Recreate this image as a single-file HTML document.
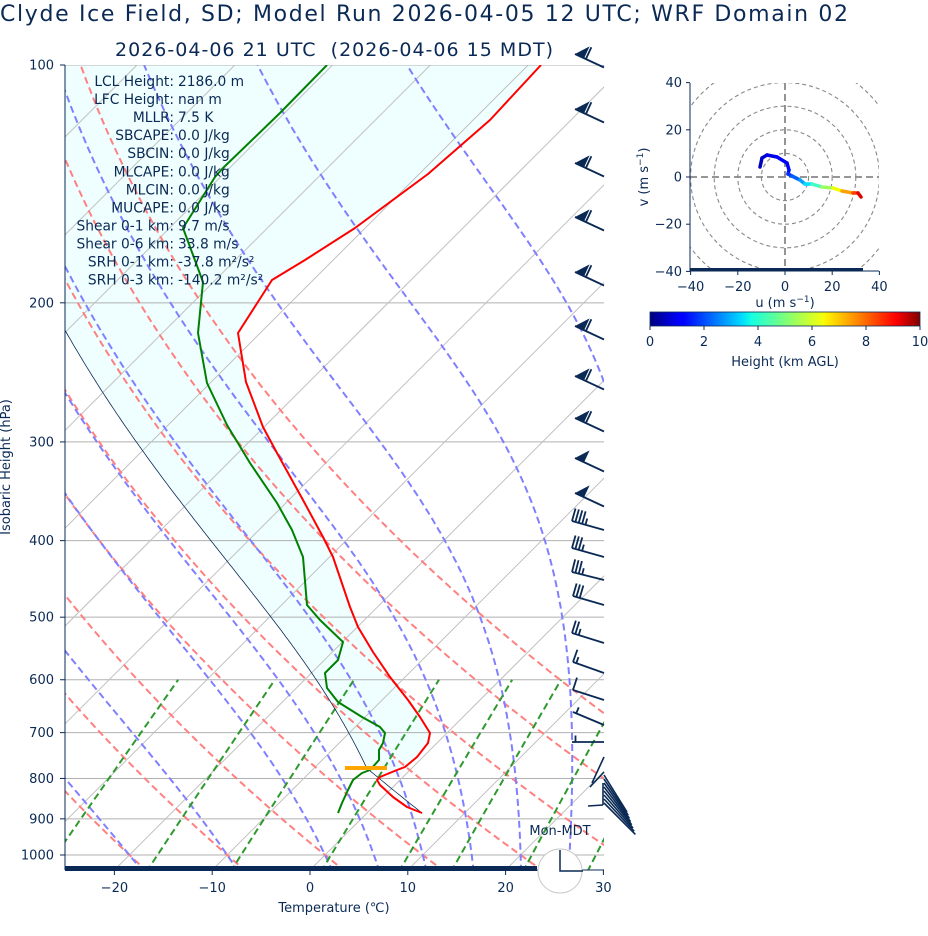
<!DOCTYPE html>
<html><head><meta charset="utf-8"><style>
html,body{margin:0;padding:0;background:#fff;}
svg{display:block;font-family:"DejaVu Sans","Liberation Sans",sans-serif;}
</style></head><body>
<svg id="s" width="928" height="936" viewBox="0 0 928 936" xmlns="http://www.w3.org/2000/svg">
<defs>
<clipPath id="pc"><rect x="65" y="65" width="539" height="805"/></clipPath>
<clipPath id="hc"><rect x="690" y="83" width="189" height="188"/></clipPath>
<linearGradient id="jet" x1="0" x2="1" y1="0" y2="0">
<stop offset="0" stop-color="#00007f"/><stop offset="0.11" stop-color="#0000ff"/><stop offset="0.125" stop-color="#0000ff"/>
<stop offset="0.34" stop-color="#00dbff"/><stop offset="0.375" stop-color="#14ffe3"/><stop offset="0.5" stop-color="#7dff7a"/>
<stop offset="0.64" stop-color="#f5ff0a"/><stop offset="0.66" stop-color="#ffed00"/><stop offset="0.91" stop-color="#ff0000"/><stop offset="1" stop-color="#800000"/>
</linearGradient>
</defs>
<g id="plot" clip-path="url(#pc)"></g>
<g id="over"></g>
<text x="0" y="21" font-size="22" fill="#0a2a55" textLength="848">Clyde Ice Field, SD; Model Run 2026-04-05 12 UTC; WRF Domain 02</text>
<text x="115" y="56" font-size="19" fill="#0a2a55" textLength="438" xml:space="preserve">2026-04-06 21 UTC  (2026-04-06 15 MDT)</text>
</svg>
<script>
(function(){
var NS="http://www.w3.org/2000/svg";
var plot=document.getElementById('plot'),over=document.getElementById('over');
function el(p,tag,a,txt){var e=document.createElementNS(NS,tag);for(var k in a)e.setAttribute(k,a[k]);if(txt!=null)e.textContent=txt;p.appendChild(e);return e;}
function Y(p){return 65+(Math.log10(p)-2)*790;}
function X(T,p){return 310+9.78*T+(870-Y(p));}
function pl(pts){return pts.map(function(q){return q[0].toFixed(1)+','+q[1].toFixed(1);}).join(' ');}
var C='#0a2a55';
var fillG=el(plot,'g',{});
[100,200,300,400,500,600,700,800,900,1000].forEach(function(p){el(plot,'line',{x1:65,x2:604,y1:Y(p),y2:Y(p),stroke:'#b0b0b0','stroke-width':1});});
for(var T=-120;T<=40;T+=10){var a=[X(T,1050),Y(1050)],b=[X(T,100),Y(100)];el(plot,'line',{x1:a[0],y1:a[1],x2:b[0],y2:b[1],stroke:'#c0c0c0','stroke-width':1});}
var ps=[];for(var p=1050;p>=99;p-=5)ps.push(p);
for(var t0=-30;t0<=50;t0+=10){var pts=ps.map(function(p){var T=(t0+273.15)*Math.pow(p/1000,0.2857)-273.15;return [X(T,p),Y(p)];});
el(plot,'polyline',{points:pl(pts),fill:'none',stroke:'#ff8080','stroke-width':2,'stroke-dasharray':'7,4'});}
var Rd=287.04,Cp=1005.7,Lv=2.501e6,eps=0.622;
function es(Tc){return 6.112*Math.exp(17.67*Tc/(Tc+243.5));}
function dTdp(T,p){var e=es(T-273.15);var rs=eps*e/(p-e);return (Rd*T+Lv*rs)/(Cp+Lv*Lv*rs*eps/(Rd*T*T))/p;}
function moist(Tc,p0,p1){var T=Tc+273.15,p=p0,out=[[Tc,p]];var n=Math.ceil(Math.abs(p1-p0)/2),h=(p1-p0)/n;
for(var i=0;i<n;i++){var k1=dTdp(T,p),k2=dTdp(T+h/2*k1,p+h/2),k3=dTdp(T+h/2*k2,p+h/2),k4=dTdp(T+h*k3,p+h);T+=h/6*(k1+2*k2+2*k3+k4);p+=h;out.push([T-273.15,p]);}return out;}
[-40,-30,-20,-10,0,5,10,15,20,25,30,35,40,45].forEach(function(t0){
var up=moist(t0,1000,100),dn=moist(t0,1000,1050).reverse();var all=dn.concat(up.slice(1));
el(plot,'polyline',{points:pl(all.map(function(q){return [X(q[0],q[1]),Y(q[1])];})),fill:'none',stroke:'#8080ff','stroke-width':2,'stroke-dasharray':'7,4'});});
[0.0004,0.001,0.002,0.004,0.007,0.01,0.016,0.024,0.032].forEach(function(w){var pts=[];for(var p=1050;p>=600;p-=10){var e=w*p/(eps+w);var l=Math.log(e/6.112);var Td=243.5*l/(17.67-l);pts.push([X(Td,p),Y(p)]);}
el(plot,'polyline',{points:pl(pts),fill:'none',stroke:'#2e9a2e','stroke-width':2,'stroke-dasharray':'7,4'});});
var pS=Math.pow(10,(813-65)/790+2),TS=(422-310-(870-813))/9.78;
var pL=Math.pow(10,(768-65)/790+2);var parcel=[];
for(var p=pS;p>pL;p-=5){parcel.push([(TS+273.15)*Math.pow(p/pS,0.2857)-273.15,p]);}
var TL=(TS+273.15)*Math.pow(pL/pS,0.2857)-273.15;
parcel=parcel.concat(moist(TL,pL,100));
var parPx=parcel.map(function(q){return [X(q[0],q[1]),Y(q[1])];});
var red=[[541,65],[490,120],[428,174],[355,228],[305,260],[272,280],[238,333],[246,382],[263,427],[277,453],[303,500],[323,537],[333,557],[350,607],[358,627],[373,652],[390,677],[408,700],[420,717],[430,733],[428,743],[417,757],[405,767],[397,770],[380,777],[377,780],[380,785],[393,797],[407,807],[422,813]];
var grn=[[327,65],[280,113],[223,168],[215,177],[183,228],[203,282],[198,333],[207,383],[227,425],[250,463],[277,503],[292,530],[303,557],[307,605],[320,620],[343,642],[338,660],[325,673],[327,688],[338,702],[362,717],[380,727],[385,733],[383,743],[379,750],[379,760],[370,770],[362,773],[353,780],[348,790],[342,803],[338,813]];
var tpart=red.filter(function(q){return q[1]<=772;});
var ppart=parPx.filter(function(q){return q[1]<=772;});
el(fillG,'polygon',{points:pl([[541,65]].concat(tpart.slice(1)).concat(ppart).concat([[-400,60],[0,60]])),fill:'#effefe',stroke:'none'});
el(plot,'polyline',{points:pl(parPx),fill:'none',stroke:C,'stroke-width':0.8});
el(plot,'polyline',{points:pl(red),fill:'none',stroke:'#ff0000','stroke-width':2,'stroke-linejoin':'round'});
el(plot,'polyline',{points:pl(grn),fill:'none',stroke:'#008000','stroke-width':2,'stroke-linejoin':'round'});
el(plot,'line',{x1:345,x2:387,y1:768,y2:768,stroke:'#ffa500','stroke-width':4});
el(over,'line',{x1:65,x2:65,y1:65,y2:870,stroke:C,'stroke-width':1});
el(over,'rect',{x:65,y:866,width:472,height:5,fill:C});
el(over,'line',{x1:537,x2:604,y1:870,y2:870,stroke:C,'stroke-width':1});
[100,200,300,400,500,600,700,800,900,1000].forEach(function(p){var y=Y(p);el(over,'line',{x1:60,x2:65,y1:y,y2:y,stroke:C});
el(over,'text',{x:54,y:y+4.5,'font-size':13,'text-anchor':'end',fill:C},String(p));});
[-20,-10,0,10,20,30].forEach(function(t){var x=310+9.78*t;el(over,'line',{x1:x,x2:x,y1:870,y2:875,stroke:C});
el(over,'text',{x:x,y:892,'font-size':13,'text-anchor':'middle',fill:C},(t<0?'\u2212'+(-t):String(t)));});
el(over,'text',{x:334,y:912,'font-size':13,'text-anchor':'middle',fill:C},'Temperature (\u2103)');
el(over,'text',{x:0,y:0,'font-size':13,'text-anchor':'middle',fill:C,transform:'translate(10,467) rotate(-90)'},'Isobaric Height (hPa)');
var lab=[['LCL Height:','2186.0 m'],['LFC Height:','nan m'],['MLLR:','7.5 K'],['SBCAPE:','0.0 J/kg'],['SBCIN:','0.0 J/kg'],['MLCAPE:','0.0 J/kg'],['MLCIN:','0.0 J/kg'],['MUCAPE:','0.0 J/kg'],['Shear 0-1 km:','9.7 m/s'],['Shear 0-6 km:','33.8 m/s'],['SRH 0-1 km:','-37.8 m\u00b2/s\u00b2'],['SRH 0-3 km:','-140.2 m\u00b2/s\u00b2']];
lab.forEach(function(l,i){var y=86+18.05*i;el(over,'text',{x:174,y:y,'font-size':13.8,'text-anchor':'end',fill:C},l[0]);el(over,'text',{x:178,y:y,'font-size':13.8,fill:C},l[1]);});
function barb(x0,y0,x1,y1,fl,fu,ha){var dx=x1-x0,dy=y1-y0,L=Math.hypot(dx,dy),ux=dx/L,uy=dy/L,nx=-uy,ny=ux;if(ny>0){nx=-nx;ny=-ny;}
el(over,'line',{x1:x0,y1:y0,x2:x1,y2:y1,stroke:C,'stroke-width':1.8});var d=0;
for(var i=0;i<fl;i++){var ax=x1-ux*d,ay=y1-uy*d,bx=x1-ux*(d+10),by=y1-uy*(d+10);
el(over,'polygon',{points:pl([[ax,ay],[bx,by],[bx+nx*13,by+ny*13]]),fill:C});d+=12;}
for(var i=0;i<fu;i++){var ax=x1-ux*d,ay=y1-uy*d;el(over,'line',{x1:ax,y1:ay,x2:ax+nx*13,y2:ay+ny*13,stroke:C,'stroke-width':1.8});d+=3.5;}
if(ha){if(fl+fu==0)d+=3.5;var ax=x1-ux*d,ay=y1-uy*d;el(over,'line',{x1:ax,y1:ay,x2:ax+nx*6.5,y2:ay+ny*6.5,stroke:C,'stroke-width':1.8});}}
[48,103,157,211,266,320,370,412,452,487].forEach(function(fy,i){var ty=fy+6;barb(604,ty+13.5,575,ty,1,i<8?1:0,0);});
barb(604,530,572,521,0,4,1);barb(604,557,572,548,0,3,1);barb(604,580,572,572,0,3,1);barb(604,605,573,596,0,3,0);
barb(604,643,572,633,0,2,1);barb(604,673,573,662,0,1,1);barb(604,700,573,690,0,1,0);barb(604,725,573,712,0,0,1);
barb(604,742,572,742,0,0,1);
el(over,'line',{x1:604,y1:757,x2:592,y2:783,stroke:C,'stroke-width':1.6});
el(over,'line',{x1:604,y1:772,x2:590,y2:787,stroke:C,'stroke-width':1.6});
el(over,'line',{x1:603,y1:783,x2:603,y2:805,stroke:C,'stroke-width':1.6});
el(over,'line',{x1:603,y1:805,x2:588,y2:806,stroke:C,'stroke-width':1.6});
for(var i=0;i<8;i++){el(over,'line',{x1:604,y1:775+4*i,x2:627+1.2*i,y2:812+3.2*i,stroke:C,'stroke-width':1.6});}
el(over,'text',{x:560,y:835,'font-size':13,'text-anchor':'middle',fill:C},'Mon-MDT');
el(over,'circle',{cx:560,cy:871,r:22,fill:'#fff',stroke:'#c8c8c8','stroke-width':1});
el(over,'polyline',{points:'560,850 560,871 583,871',fill:'none',stroke:C,'stroke-width':1.5});
var hc=[785,177],sc=2.36,hg=el(over,'g',{'clip-path':'url(#hc)'});
[10,20,30,40,50].forEach(function(r){el(hg,'circle',{cx:hc[0],cy:hc[1],r:r*sc,fill:'none',stroke:'#888','stroke-width':1.1,'stroke-dasharray':'4,3'});});
el(hg,'line',{x1:690,x2:879,y1:177,y2:177,stroke:'#888','stroke-width':1.8,'stroke-dasharray':'7,4'});
el(hg,'line',{x1:785,x2:785,y1:83,y2:271,stroke:'#888','stroke-width':1.8,'stroke-dasharray':'7,4'});
var hp=[[760,167,'#0000a0'],[762,158,'#0000c0'],[767,155,'#0000d0'],[777,157,'#0000e8'],[787,163,'#0000ff'],[789,170,'#0000ff'],[788,174,'#0010ff'],[792,176,'#0030ff'],[800,180,'#0060ff'],[805,184,'#00a0ff'],[812,184,'#00e0ff'],[822,187,'#40ffc0'],[833,188,'#a0ff60'],[842,191,'#f0ff00'],[853,193,'#ffa000'],[858,193,'#ff4000'],[861,197,'#e00000']];
for(var i=1;i<hp.length;i++){el(over,'line',{x1:hp[i-1][0],y1:hp[i-1][1],x2:hp[i][0],y2:hp[i][1],stroke:hp[i][2],'stroke-width':3.5,'stroke-linecap':'round'});}
el(over,'line',{x1:690,x2:690,y1:83,y2:271,stroke:C});
el(over,'line',{x1:690,x2:879,y1:271,y2:271,stroke:C});
el(over,'rect',{x:690,y:268,width:173,height:3,fill:C});
[[40,'40'],[20,'20'],[0,'0'],[-20,'\u221220'],[-40,'\u221240']].forEach(function(v){var y=177-v[0]*sc;el(over,'line',{x1:686,x2:690,y1:y,y2:y,stroke:C});
el(over,'text',{x:682,y:y+4.5,'font-size':13,'text-anchor':'end',fill:C},v[1]);
var x=785+v[0]*sc;el(over,'line',{x1:x,x2:x,y1:271,y2:275,stroke:C});});
[[-40,'\u221240'],[-20,'\u221220'],[0,'0'],[20,'20'],[40,'40']].forEach(function(v){el(over,'text',{x:785+v[0]*sc,y:291,'font-size':13,'text-anchor':'middle',fill:C},v[1]);});
var t=el(over,'text',{x:785,y:307,'font-size':13,'text-anchor':'middle',fill:C},'u (m s');el(t,'tspan',{dy:-5,'font-size':9},'\u22121');el(t,'tspan',{dy:5},')');
var t2=el(over,'text',{x:0,y:0,'font-size':13,'text-anchor':'middle',fill:C,transform:'translate(648,177) rotate(-90)'},'v (m s');el(t2,'tspan',{dy:-5,'font-size':9},'\u22121');el(t2,'tspan',{dy:5},')');
el(over,'rect',{x:650,y:312,width:270,height:14,fill:'url(#jet)',stroke:C,'stroke-width':0.8});
for(var k=0;k<=10;k+=2){var x=650+27*k;el(over,'line',{x1:x,x2:x,y1:326,y2:330,stroke:C});el(over,'text',{x:x,y:346,'font-size':13,'text-anchor':'middle',fill:C},String(k));}
el(over,'text',{x:785,y:366,'font-size':13,'text-anchor':'middle',fill:C},'Height (km AGL)');
})();
</script>
</body></html>
